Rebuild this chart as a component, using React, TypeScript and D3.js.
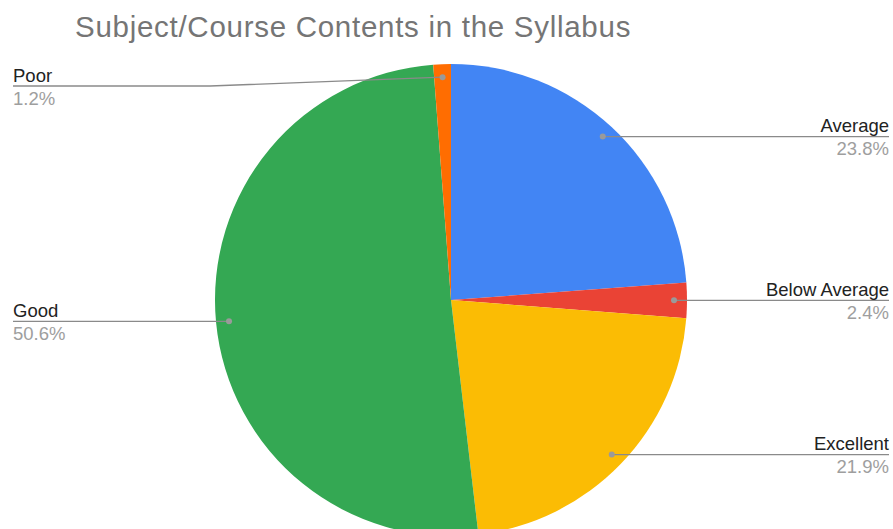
import React from "react";
import * as d3 from "d3";

const categories = ["Average", "Below Average", "Excellent", "Good", "Poor"];
const values = [23.8, 2.4, 21.9, 50.6, 1.2];
const colors = ["#4285F4", "#EA4335", "#FBBC04", "#34A853", "#FF6D01"];
const title = "Subject/Course Contents in the Syllabus";

const W = 893;
const H = 529;
const cx = 451;
const cy = 300;
const R = 236;
const dotR = 223;
const minLineY = 86;
const leftX = 13;
const rightX = 889;
const elbowX = 210;

export default function App() {
  const pie = d3.pie<number>().sort(null).value((d) => d);
  const arcs = pie(values);
  const arcGen = d3.arc<d3.PieArcDatum<number>>().innerRadius(0).outerRadius(R);
  const font = "'Liberation Sans', Arial, sans-serif";

  return (
    <svg
      width={W}
      height={H}
      style={{ position: "absolute", left: 0, top: 0, background: "#fff" }}
      fontFamily={font}
    >
      <text x={75} y={37} fontSize={29.5} fill="#757575" letterSpacing={0.72}>
        {title}
      </text>
      <g transform={`translate(${cx},${cy})`}>
        {arcs.map((a, i) => (
          <path key={i} d={arcGen(a) || ""} fill={colors[i]} />
        ))}
      </g>
      {arcs.map((a, i) => {
        const mid = (a.startAngle + a.endAngle) / 2;
        const dx = cx + dotR * Math.sin(mid);
        const dy = cy - dotR * Math.cos(mid);
        const right = Math.sin(mid) > 0;
        const ly = Math.max(dy, minLineY);
        const tx = right ? rightX : leftX;
        const anchor = right ? "end" : "start";
        let pts: [number, number][];
        if (right) {
          pts = [[dx, dy], [rightX, ly]];
        } else if (ly !== dy) {
          pts = [[dx, dy], [elbowX, ly], [leftX, ly]];
        } else {
          pts = [[dx, dy], [leftX, ly]];
        }
        const line = d3.line()(pts) || "";
        return (
          <g key={"l" + i}>
            <path d={line} fill="none" stroke="#8a8a8a" strokeWidth={1.3} />
            <circle cx={dx} cy={dy} r={3} fill="#9a9a9a" />
            <text x={tx} y={ly - 4.5} fontSize={18.5} fill="#222" textAnchor={anchor}>
              {categories[i]}
            </text>
            <text x={tx} y={ly + 18.5} fontSize={18.5} fill="#9e9e9e" textAnchor={anchor}>
              {values[i].toFixed(1) + "%"}
            </text>
          </g>
        );
      })}
    </svg>
  );
}
